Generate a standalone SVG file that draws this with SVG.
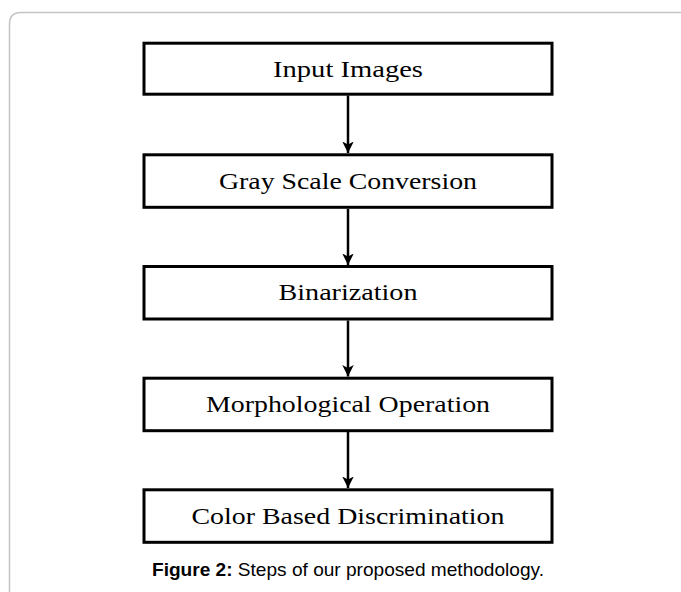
<svg xmlns="http://www.w3.org/2000/svg" width="681" height="592" viewBox="0 0 681 592">
<defs>
<style>
.box rect{fill:#fff;stroke:#000;stroke-width:3}
.box text{font-family:"Liberation Serif","Times New Roman",serif;font-size:23.5px;fill:#000;text-anchor:middle}
.edge{stroke:#000;stroke-width:2.5;fill:none}
.cap{font-family:"Liberation Sans",Arial,sans-serif;font-size:18.5px;fill:#000;text-anchor:middle}
</style>
<marker id="ah" viewBox="0 0 10 10" refX="10" refY="5" markerWidth="4.6" markerHeight="4.6" markerUnits="strokeWidth" orient="auto">
<path d="M0,0 L10,5 L0,10 L2.5,5 Z" fill="#000"/>
</marker>
</defs>
<rect width="681" height="592" fill="#fff"/>
<path d="M9.5,592 V24 Q9.5,12.5 21,12.5 H681" fill="none" stroke="#c4c4c4" stroke-width="1.5"/>
<g id="connectors">
<line class="edge" x1="348" y1="95.5" x2="348" y2="153" marker-end="url(#ah)"/>
<line class="edge" x1="348" y1="209" x2="348" y2="265" marker-end="url(#ah)"/>
<line class="edge" x1="348" y1="320.5" x2="348" y2="376.5" marker-end="url(#ah)"/>
<line class="edge" x1="348" y1="432" x2="348" y2="488" marker-end="url(#ah)"/>
</g>
<g id="n1" class="box"><rect x="144" y="43.2" width="408" height="51"/><text x="348" y="76.5" textLength="150" lengthAdjust="spacingAndGlyphs">Input Images</text></g>
<g id="n2" class="box"><rect x="144" y="154.8" width="408" height="52.5"/><text x="348" y="188.5" textLength="258" lengthAdjust="spacingAndGlyphs">Gray Scale Conversion</text></g>
<g id="n3" class="box"><rect x="144" y="266.5" width="408" height="52.5"/><text x="348" y="300" textLength="139" lengthAdjust="spacingAndGlyphs">Binarization</text></g>
<g id="n4" class="box"><rect x="144" y="378.2" width="408" height="52.5"/><text x="348" y="411.5" textLength="284" lengthAdjust="spacingAndGlyphs">Morphological Operation</text></g>
<g id="n5" class="box"><rect x="144" y="489.8" width="408" height="52.5"/><text x="348" y="523.5" textLength="313" lengthAdjust="spacingAndGlyphs">Color Based Discrimination</text></g>
<text class="cap" x="348" y="576" textLength="392" lengthAdjust="spacingAndGlyphs"><tspan font-weight="bold">Figure 2:</tspan> Steps of our proposed methodology.</text>
</svg>
